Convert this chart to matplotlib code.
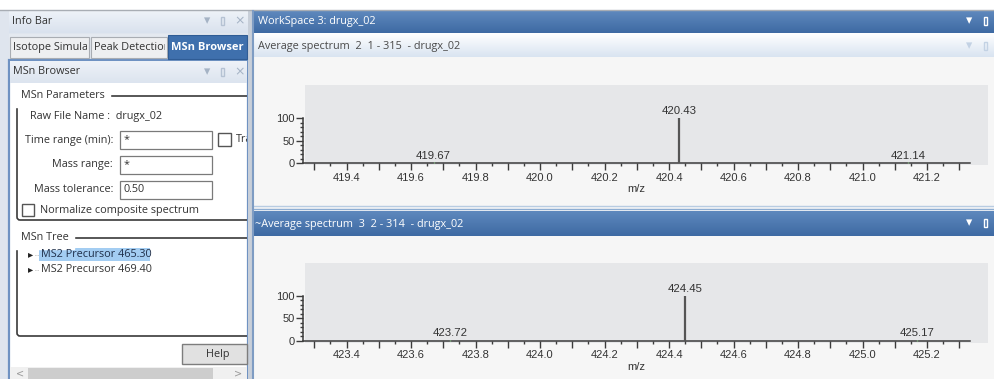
import numpy as np
import matplotlib
matplotlib.use("Agg")
import matplotlib.pyplot as plt
from matplotlib.patches import Rectangle, FancyBboxPatch
from matplotlib.colors import LinearSegmentedColormap
from matplotlib.ticker import MultipleLocator, FuncFormatter

# spectrum data
mz_top = [419.67, 420.43, 421.14]
int_top = [2, 100, 2]
mz_bottom = [423.72, 424.45, 425.17]
int_bottom = [2, 100, 2]
xlim_top = (419.265, 421.333)
xlim_bottom = (423.265, 425.333)
y_ticks = [0, 50, 100]

tab_labels = ["Isotope Simula", "Peak Detectior"]
tree_items = ["MS2 Precursor 465.30", "MS2 Precursor 469.40"]
param_labels = ["Time range (min):", "Mass range:", "Mass tolerance:"]
param_values = ["*", "*", "0.50"]

W, H = 995, 379
UI = "Open Sans"
SYM = "DejaVu Sans"
FS = 7.8

fig = plt.figure(figsize=(W / 100, H / 100), dpi=100)
ui = fig.add_axes([0, 0, 1, 1])
ui.set_xlim(0, W)
ui.set_ylim(H, 0)
ui.axis("off")


def box(x0, y0, x1, y1, fc, ec="none", lw=1, z=1):
    r = Rectangle((x0, y0), x1 - x0, y1 - y0, facecolor=fc, edgecolor=ec, lw=lw, zorder=z)
    ui.add_patch(r)
    return r


def grad(x0, y0, x1, y1, top, bot, z=1):
    cm = LinearSegmentedColormap.from_list("g", [top, bot])
    ui.imshow(np.linspace(0, 1, 64)[:, None], extent=(x0, x1, y1, y0), cmap=cm,
              aspect="auto", zorder=z, interpolation="bilinear")


def txt(x, y, s, size=FS, color="#333333", clip=None, **kw):
    kw.setdefault("family", UI)
    t = ui.text(x, y, s, fontsize=size, color=color, va="center", zorder=5, **kw)
    if clip is not None:
        t.set_clip_on(True)
        t.set_clip_path(clip)
    return t


# ---------- left panel ----------
box(0, 0, W, H, "white", z=0)
box(0, 10, 250, H, "#dfe5ee", z=0.5)
grad(9, 11, 248, 33, "#eef2f8", "#d9e2ee")
txt(12, 21, "Info Bar")
for x, s in [(207, "▾"), (240, "×")]:
    txt(x, 21, s, size=9, color="#a5b3c5", family=SYM, ha="center")
box(221, 17, 224, 25, "none", ec="#b5c2d3", lw=1, z=5)

# tabs
box(9, 34, 248, 60, "#e4e9f0", z=1)
for (x0, x1), label in zip([(10, 89), (91, 167)], tab_labels):
    box(x0, 37, x1, 58, "#eeeff1", ec="#a9adb3", lw=0.8, z=2)
    txt(x0 + 3, 47.5, label, clip=Rectangle((x0, 37), x1 - x0 - 2, 21, transform=ui.transData))
box(168, 35, 247, 59, "#3f70ad", ec="#2f5c95", lw=0.8, z=2)
txt(207, 47, "MSn Browser", size=8.0, color="white", weight="bold", ha="center")

# inner browser panel
box(9, 60, 248, H, "white", ec="#6f92c2", lw=1.6, z=1)
grad(10, 61, 247, 83, "#eef2f8", "#dce4ef")
txt(13, 72, "MSn Browser")
for x, s in [(207, "▾"), (240, "×")]:
    txt(x, 72, s, size=9, color="#a5b3c5", family=SYM, ha="center")
box(221, 68, 224, 76, "none", ec="#b5c2d3", lw=1, z=5)


def left_clip():
    return Rectangle((9, 0), 238, H, transform=ui.transData)


# parameters group
g1 = FancyBboxPatch((17, 96), 240, 124, boxstyle="round,pad=0,rounding_size=3",
                    facecolor="none", edgecolor="#3a3a3a", lw=1.2, zorder=3)
ui.add_patch(g1)
g1.set_clip_path(left_clip())
txt(21, 96, "MSn Parameters", backgroundcolor="white")
txt(30, 116, "Raw File Name :  drugx_02")
for i, (lab, val) in enumerate(zip(param_labels, param_values)):
    y = 140 + 25 * i
    txt(113, y, lab, ha="right")
    box(120, y - 9, 212, y + 9, "white", ec="#7a7a7a", lw=0.9, z=3)
    txt(124, y, val)
box(218, 133, 231, 146, "white", ec="#555555", lw=1, z=3)
txt(236, 140, "Tra", clip=left_clip())
box(22, 204, 34, 216, "white", ec="#555555", lw=1, z=3)
txt(40, 210, "Normalize composite spectrum")

# tree group
g2 = FancyBboxPatch((17, 238), 240, 98, boxstyle="round,pad=0,rounding_size=3",
                    facecolor="none", edgecolor="#3a3a3a", lw=1.2, zorder=3)
ui.add_patch(g2)
g2.set_clip_path(left_clip())
txt(21, 238, "MSn Tree", backgroundcolor="white")
box(39, 248, 150, 261, "#a3cdf2", z=3)
for i, item in enumerate(tree_items):
    y = 254.5 + 15 * i
    txt(31, y, "▸", size=7.5, color="#222222", family=SYM, ha="center")
    ui.plot([35, 39], [y, y], color="#999999", lw=0.6, ls=":", zorder=4)
    txt(41, y, item, color="#1f2f4a" if i == 0 else "#333333")

# help button and scrollbar
box(182, 344, 247, 364, "#e1e1e1", ec="#7d7d7d", lw=1, z=3)
txt(218, 354, "Help", ha="center")
box(10, 367, 247, H, "#f0f0f0", z=3)
box(28, 368, 213, H, "#cdcdcd", z=3)
txt(20, 373, "<", size=7, color="#9a9a9a", family=SYM, ha="center")
txt(238, 373, ">", size=7, color="#9a9a9a", family=SYM, ha="center")

# ---------- right workspace ----------
box(248, 10, 253, H, "#c8cfd9", z=1)
ui.plot([0, W], [10, 10], color="#a8adb4", lw=1, zorder=2)
box(253, 11, W, H, "#f6f6f6", z=1)
ui.plot([253, 253], [11, H], color="#7e9cc3", lw=1.5, zorder=6)
grad(253, 11, W, 33, "#5e88bd", "#3e6aa3")
txt(258, 21.5, "WorkSpace 3: drugx_02", color="white")
txt(969, 21, "▾", size=9, color="white", family=SYM, ha="center")
box(984, 17, 987, 25, "none", ec="white", lw=1, z=5)

grad(253, 33, W, 57, "#ffffff", "#d9e4f1")
txt(258, 46, "Average spectrum  2  1 - 315  - drugx_02", color="#4a4a4a")
txt(969, 46, "▾", size=9, color="#c3d2e4", family=SYM, ha="center")
box(984, 42, 987, 50, "none", ec="#c3d2e4", lw=1, z=5)

ui.plot([253, W], [206, 206], color="#b8cce2", lw=1, zorder=2)
ui.plot([253, W], [209, 209], color="#8eaed3", lw=1, zorder=2)
grad(253, 211, W, 236, "#5e88bd", "#3e6aa3")
txt(255, 224, "~Average spectrum  3  2 - 314  - drugx_02", color="white")
txt(969, 223, "▾", size=9, color="white", family=SYM, ha="center")
box(984, 219, 987, 227, "none", ec="white", lw=1, z=5)

# gray plot panels
box(305, 85, 988, 165, "#e6e7e9", z=2)
box(305, 263, 988, 343, "#e6e7e9", z=2)
ui.set_xlim(0, W)
ui.set_ylim(H, 0)


def spectrum(base_px, top_px, xlim, mz, inten):
    ax = fig.add_axes([303 / W, 1 - base_px / H, 667 / W, (base_px - top_px) / H])
    ax.patch.set_alpha(0)
    ax.set_xlim(*xlim)
    ax.set_ylim(0, 100)
    for s in ["top", "right"]:
        ax.spines[s].set_visible(False)
    for s in ["left", "bottom"]:
        ax.spines[s].set_color("#3c3c3c")
        ax.spines[s].set_linewidth(1.1)
    ax.xaxis.set_major_locator(MultipleLocator(0.1))
    ax.xaxis.set_minor_locator(MultipleLocator(0.05))
    ax.xaxis.set_major_formatter(FuncFormatter(
        lambda v, p: f"{v:.1f}" if round(v * 10) % 2 == 0 else ""))
    ax.set_yticks(y_ticks)
    ax.yaxis.set_minor_locator(MultipleLocator(10))
    ax.tick_params(which="major", length=5, width=1, color="#3c3c3c",
                   labelsize=8, labelcolor="#333333", pad=2)
    ax.tick_params(which="minor", length=2.5, width=1, color="#3c3c3c")
    ax.tick_params(axis="y", pad=1)
    for lab in ax.get_xticklabels() + ax.get_yticklabels():
        lab.set_family("Liberation Sans")
    ax.set_xlabel("m/z", fontsize=8, color="#333333", family="Liberation Sans", labelpad=1)
    for m, v in zip(mz, inten):
        ax.vlines(m, 0, v, color="#555555" if v > 50 else "#8fd08f",
                  lw=1.6 if v > 50 else 1, zorder=3, clip_on=False)
        ax.text(m, v + 4, f"{m:.2f}", ha="center", va="bottom", fontsize=8.2,
                color="#333333", family="Liberation Sans", clip_on=False)
    return ax


spectrum(163.3, 118.3, xlim_top, mz_top, int_top)
spectrum(340.7, 296.0, xlim_bottom, mz_bottom, int_bottom)

fig.savefig("out.png", dpi=100)
